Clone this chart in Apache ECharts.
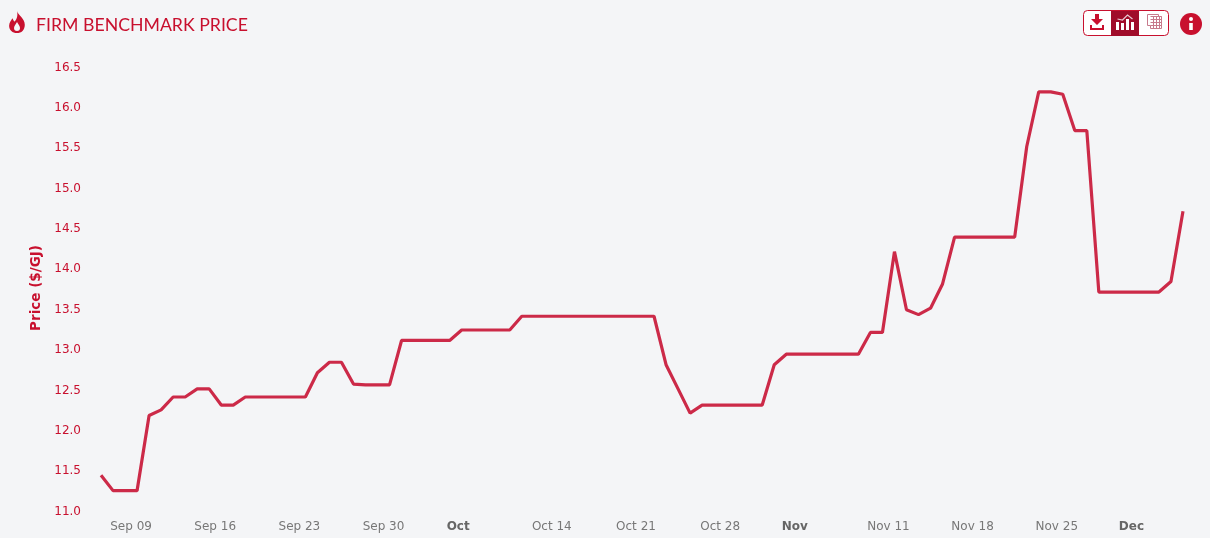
<!DOCTYPE html>
<html>
<head>
<meta charset="utf-8">
<title>Firm Benchmark Price</title>
<script src="https://cdn.jsdelivr.net/npm/echarts@6/dist/echarts.min.js"></script>
<style>
html, body { margin: 0; padding: 0; background: #f4f5f7; }
#chart { width: 1210px; height: 538px; }
</style>
</head>
<body>
<div id="chart"></div>
<script>
// first point is Sep 6 midday, one point per day
var startDay = '2024-09-06';
var prices = [
    11.43, 11.24, 11.24, 11.24, 12.17, 12.24, 12.40, 12.40, 12.50, 12.50,
    12.30, 12.30, 12.40, 12.40, 12.40, 12.40, 12.40, 12.40, 12.70, 12.83,
    12.83, 12.56, 12.55, 12.55, 12.55, 13.10, 13.10, 13.10, 13.10, 13.10,
    13.23, 13.23, 13.23, 13.23, 13.23, 13.40, 13.40, 13.40, 13.40, 13.40,
    13.40, 13.40, 13.40, 13.40, 13.40, 13.40, 13.40, 12.80, 12.50, 12.20,
    12.30, 12.30, 12.30, 12.30, 12.30, 12.30, 12.80, 12.93, 12.93, 12.93,
    12.93, 12.93, 12.93, 12.93, 13.20, 13.20, 14.20, 13.48, 13.42, 13.50,
    13.80, 14.38, 14.38, 14.38, 14.38, 14.38, 14.38, 15.50, 16.18, 16.18,
    16.15, 15.70, 15.70, 13.70, 13.70, 13.70, 13.70, 13.70, 13.70, 13.83,
    14.70
];
var tickDates = ['2024-09-09', '2024-09-16', '2024-09-23', '2024-09-30', '2024-10-06',
    '2024-10-14', '2024-10-21', '2024-10-28', '2024-11-03', '2024-11-11',
    '2024-11-18', '2024-11-25', '2024-12-01'];
var tickLabels = ['Sep 09', 'Sep 16', 'Sep 23', 'Sep 30', 'Oct',
    'Oct 14', 'Oct 21', 'Oct 28', 'Nov', 'Nov 11', 'Nov 18', 'Nov 25', 'Dec'];
var monthLabels = ['Oct', 'Nov', 'Dec'];

var DAY = 86400000;
var RED = '#c8102e';
var DARK = '#a00c2a';

function ts(s) {
    return new Date(s + 'T00:00:00Z').getTime();
}

var lineData = prices.map(function (p, i) {
    return [ts(startDay) + (i + 0.5) * DAY, p];
});
var tickValues = tickDates.map(ts);

// the graphic component has no plain path type, so icons are registered as shapes
function icon(name, d) {
    echarts.graphic.registerShape(name, echarts.graphic.extendPath(d, {}));
}
icon('flame', 'M8 0 C9 4 15 7 15 13 C15 18 12 21 8 21 C4 21 1 18 1 14 C1 11 3 9 4 7 C5 9 5 10 6 10 C8 8 9 4 8 0 Z');
icon('flameCore', 'M3 0 C4 2 6 4 6 6 C6 8 5 9 3 9 C1 9 0 8 0 6 C0 4 2 2 3 0 Z');
icon('download', 'M5 0 H9 V5 H13 L7 11 L1 5 H5 Z M0 11 H2 V14 H12 V11 H14 V16 H0 Z');
icon('bars', 'M0 8 H3 V16 H0 Z M5 9 H8 V16 H5 Z M10 5 H13 V16 H10 Z M15 8 H18 V16 H15 Z');
icon('barsLine', 'M1.5 5 L6.5 6 L11.5 1 L16.5 5');
icon('grid', 'M0.5 0.5 H11.5 V2.5 H14.5 V14.5 H3.5 V11.5 H0.5 Z M3.5 2.5 H14.5 M3.5 5.5 H14.5 M3.5 8.5 H14.5 M3.5 11.5 H14.5 M6.5 2.5 V14.5 M9.5 2.5 V14.5 M12.5 2.5 V14.5');

var chart = echarts.init(document.getElementById('chart'));

var option = {
    backgroundColor: '#f4f5f7',
    animation: false,
    title: {
        text: 'FIRM BENCHMARK PRICE',
        left: 36,
        top: 16,
        padding: 0,
        textStyle: { color: RED, fontFamily: 'Lato', fontSize: 17.7, fontWeight: 'normal' }
    },
    grid: { left: 95, right: 21, top: 66, bottom: 28 },
    xAxis: {
        // timestamps on a value axis, so the ticks can sit on exact dates
        type: 'value',
        min: ts(startDay),
        max: ts(startDay) + 91 * DAY,
        axisLine: { show: false },
        axisTick: { show: false },
        splitLine: { show: false },
        axisLabel: {
            customValues: tickValues,
            hideOverlap: false,
            margin: 11,
            fontFamily: 'DejaVu Sans',
            fontSize: 12,
            color: '#777777',
            formatter: function (val) {
                var label = tickLabels[tickValues.indexOf(val)];
                return monthLabels.indexOf(label) >= 0 ? '{m|' + label + '}' : label;
            },
            rich: {
                m: { fontFamily: 'DejaVu Sans', fontSize: 12, fontWeight: 'bold', color: '#666666', padding: [0, 0, 0, 5] }
            }
        }
    },
    yAxis: {
        type: 'value',
        min: 11,
        max: 16.5,
        interval: 0.5,
        name: 'Price ($/GJ)',
        nameLocation: 'middle',
        nameGap: 47,
        nameTextStyle: { color: RED, fontFamily: 'DejaVu Sans', fontSize: 13.5, fontWeight: 'bold' },
        axisLine: { show: false },
        axisTick: { show: false },
        splitLine: { show: false },
        axisLabel: {
            margin: 14,
            formatter: function (v) { return '{v|' + v.toFixed(1) + '}'; },
            rich: {
                // nudge down so the text centres on its value
                v: { fontFamily: 'DejaVu Sans', fontSize: 12, color: RED, padding: [3, 0, 0, 0] }
            }
        }
    },
    series: [{
        name: 'Firm Benchmark Price',
        type: 'line',
        data: lineData,
        showSymbol: false,
        lineStyle: { color: '#cc2a48', width: 3.2, cap: 'butt', join: 'bevel' },
        silent: true
    }],
    graphic: [
        { type: 'flame', x: 8, y: 11, scaleX: 1.12, scaleY: 1.05, style: { fill: RED } },
        { type: 'flameCore', x: 14, y: 22, style: { fill: '#f4f5f7' } },
        // button group
        { type: 'rect', shape: { x: 1083.5, y: 10.5, width: 85, height: 25, r: 4 },
            style: { fill: '#ffffff', stroke: RED, lineWidth: 1 } },
        { type: 'rect', shape: { x: 1111, y: 11, width: 28, height: 25 }, style: { fill: DARK } },
        { type: 'download', x: 1090, y: 14, style: { fill: RED } },
        { type: 'bars', x: 1116, y: 14, style: { fill: '#ffffff' } },
        { type: 'barsLine', x: 1116, y: 14, style: { fill: 'none', stroke: '#e8c9d2', lineWidth: 1.2 } },
        { type: 'grid', x: 1147, y: 14, style: { fill: 'none', stroke: '#c77a8c', lineWidth: 1 } },
        // info
        { type: 'circle', shape: { cx: 1191, cy: 24, r: 11 }, style: { fill: RED } },
        { type: 'rect', shape: { x: 1189.2, y: 23, width: 3.6, height: 7 }, style: { fill: '#ffffff' } },
        { type: 'circle', shape: { cx: 1191, cy: 19, r: 2 }, style: { fill: '#ffffff' } }
    ]
};

chart.setOption(option);
</script>
</body>
</html>
